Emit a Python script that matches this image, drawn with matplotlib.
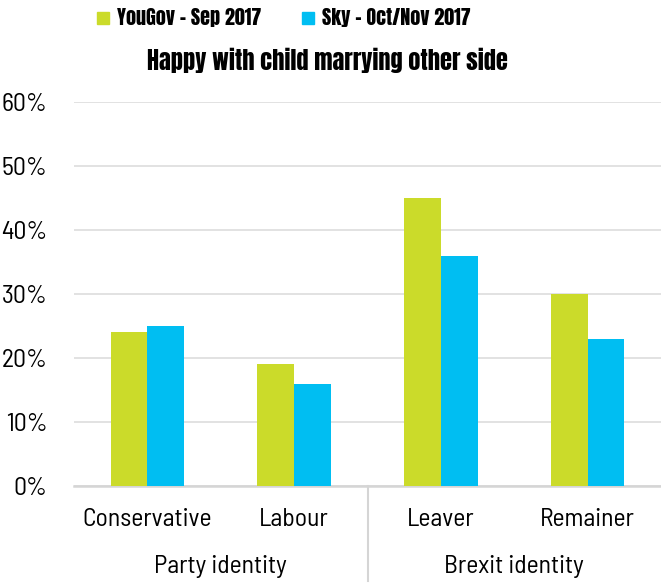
import numpy as np
import matplotlib.pyplot as plt
from matplotlib.patches import Patch

categories = ["Conservative", "Labour", "Leaver", "Remainer"]
groups = ["Party identity", "Brexit identity"]
yougov = [24, 19, 45, 30]
sky = [25, 16, 36, 23]
series_names = ["YouGov - Sep 2017", "Sky - Oct/Nov 2017"]
title = "Happy with child marrying other side"

green = "#CBDB2A"
blue = "#00BEF2"
# condensed faces; DejaVu Sans is the fallback
label_font = ["Barlow Semi Condensed", "DejaVu Sans"]
head_font = ["Anton", "DejaVu Sans"]

fig = plt.figure(figsize=(6.61, 5.86), dpi=100)
ax = fig.add_axes([74 / 661, 1 - 486 / 586, 1 - 74 / 661, 384 / 586])

x = np.arange(len(categories))
w = 0.25
ax.bar(x - w / 2, yougov, w, color=green, zorder=3)
ax.bar(x + w / 2, sky, w, color=blue, zorder=3)

ax.set_xlim(-0.5, len(categories) - 0.5)
ax.set_ylim(0, 60)
ax.set_yticks(range(0, 61, 10))
ax.set_yticklabels([f"{v}%" for v in range(0, 61, 10)], family=label_font,
                   fontsize=18.5, fontstretch="condensed")
ax.grid(axis="y", color="#DDDDDD", linewidth=1.2, zorder=0)
ax.set_xticks([])
for s in ["top", "right", "left"]:
    ax.spines[s].set_visible(False)
ax.spines["bottom"].set_color("#D5D5D5")
ax.spines["bottom"].set_linewidth(1.8)
ax.tick_params(axis="y", length=0, pad=19)

# category and group labels below the axis
for i, c in enumerate(categories):
    ax.text(i, -5.2, c, ha="center", va="center", family=label_font, fontsize=18.5,
            fontstretch="condensed", clip_on=False)
for j, g in enumerate(groups):
    ax.text(2 * j + 0.5, -12.6, g, ha="center", va="center", family=label_font,
            fontsize=18.5, fontstretch="condensed", clip_on=False)
ax.plot([1.5, 1.5], [0, -14.8], color="#D5D5D5", linewidth=1.5, clip_on=False)

handles = [Patch(color=green), Patch(color=blue)]
fig.legend(handles, series_names, loc="center", bbox_to_anchor=(0.429, 0.97),
           ncol=2, frameon=False, handlelength=0.6, handleheight=0.6,
           handletextpad=0.4, columnspacing=2.0,
           prop={"family": head_font, "size": 14.5})
fig.text(0.495, 1 - 60 / 586, title, ha="center", va="center", family=head_font,
         fontsize=17.5)

fig.savefig("out.png", dpi=100)
